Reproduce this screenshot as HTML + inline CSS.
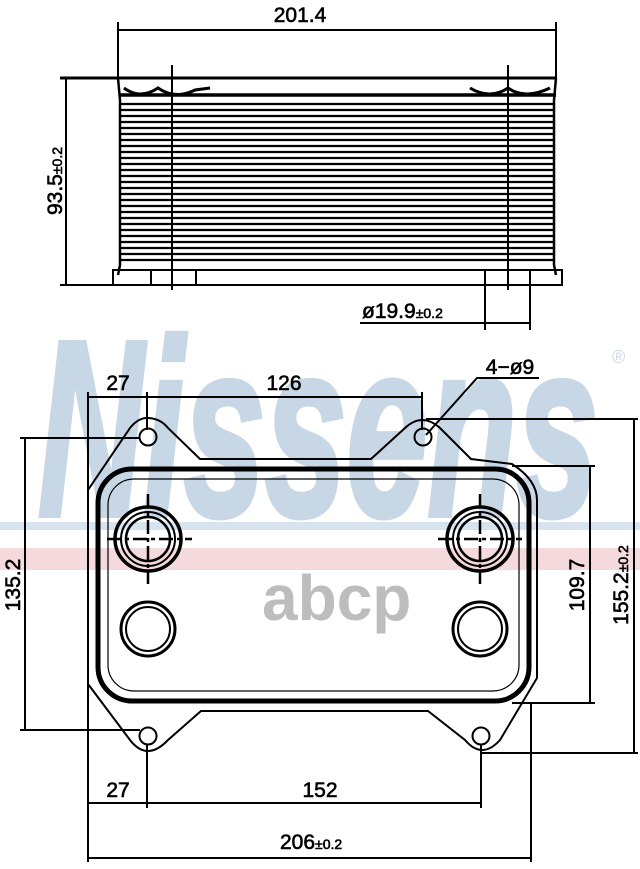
<!DOCTYPE html>
<html><head><meta charset="utf-8"><style>
html,body{margin:0;padding:0;background:#fff;width:640px;height:869px;overflow:hidden}
svg{display:block}
text{font-family:"Liberation Sans",sans-serif}
</style></head><body>
<svg width="640" height="869" viewBox="0 0 640 869" xmlns="http://www.w3.org/2000/svg">
<!-- watermark -->
<text x="38" y="515" font-size="250" font-weight="bold" font-style="italic" fill="#c8d7e6" stroke="#c8d7e6" stroke-width="6" textLength="560" lengthAdjust="spacingAndGlyphs">Nissens</text>
<text x="612" y="363" font-size="18" fill="#cbd9e7">®</text>
<rect x="0" y="522" width="640" height="8" fill="#d7e3ee"/>
<rect x="0" y="548" width="640" height="22" fill="#f5dadd"/>
<text x="262" y="620" font-size="64" fill="#bdbdbd" font-weight="bold">abcp</text>

<g stroke="#000" fill="none" stroke-width="2">
<!-- TOP VIEW -->
<line x1="118" y1="30" x2="556" y2="30"/>
<line x1="118" y1="22" x2="118" y2="80"/>
<line x1="556" y1="22" x2="556" y2="80"/>
<line x1="60" y1="78" x2="556" y2="78" stroke-width="3"/>
<line x1="60" y1="285" x2="112" y2="285"/>
<line x1="66" y1="78" x2="66" y2="285"/>
<path d="M118 78 L120 100 L120 265 L118 275 M556 78 L554 100 L554 265 L556 275" stroke-width="2.5"/>
<path d="M120 95 L556 95" stroke-width="3.5"/>
<path d="M124 88 Q140 100 158 88 Q175 100 195 90 L210 88 M470 88 Q490 100 508 88 Q525 100 550 88" stroke-width="3"/>
<g stroke-width="2.2">
<line x1="120" y1="104" x2="554" y2="104"/><line x1="120" y1="110" x2="554" y2="110"/>
<line x1="120" y1="116" x2="554" y2="116"/><line x1="120" y1="122" x2="554" y2="122"/>
<line x1="120" y1="128" x2="554" y2="128"/><line x1="120" y1="134" x2="554" y2="134"/>
<line x1="120" y1="140" x2="554" y2="140"/><line x1="120" y1="146" x2="554" y2="146"/>
<line x1="120" y1="152" x2="554" y2="152"/><line x1="120" y1="158" x2="554" y2="158"/>
<line x1="120" y1="164" x2="554" y2="164"/><line x1="120" y1="170" x2="554" y2="170"/>
<line x1="120" y1="176" x2="554" y2="176"/><line x1="120" y1="182" x2="554" y2="182"/>
<line x1="120" y1="188" x2="554" y2="188"/><line x1="120" y1="194" x2="554" y2="194"/>
<line x1="120" y1="200" x2="554" y2="200"/><line x1="120" y1="206" x2="554" y2="206"/>
<line x1="120" y1="212" x2="554" y2="212"/><line x1="120" y1="218" x2="554" y2="218"/>
<line x1="120" y1="224" x2="554" y2="224"/><line x1="120" y1="230" x2="554" y2="230"/>
<line x1="120" y1="236" x2="554" y2="236"/><line x1="120" y1="242" x2="554" y2="242"/>
<line x1="120" y1="248" x2="554" y2="248"/><line x1="120" y1="254" x2="554" y2="254"/>
<line x1="120" y1="260" x2="554" y2="260"/>
</g>
<rect x="113" y="270" width="449" height="15"/>
<line x1="151" y1="270" x2="151" y2="285"/><line x1="196" y1="270" x2="196" y2="285"/>
<line x1="485" y1="270" x2="485" y2="330"/><line x1="530" y1="270" x2="530" y2="330"/>
<line x1="172" y1="65" x2="172" y2="290"/><line x1="508" y1="65" x2="508" y2="290"/>
<line x1="360" y1="323" x2="530" y2="323"/>

<!-- BOTTOM VIEW -->
<path d="M147 418 Q160 418 168 428 L200 459 L371 459 L405 428 Q422 412 440 428 L471 459 L512 464 Q537 480 537 500 L537 678 L500 740 Q482 760 465 740 L428 711 L201 711 L168 740 Q147 762 130 740 L88 684 L88 490 L130 428 Q138 418 147 418 Z"/>
<rect x="98" y="469" width="431" height="232" rx="34" stroke-width="5"/>
<rect x="108" y="479" width="411" height="212" rx="26" stroke-width="1.2"/>
<circle cx="148" cy="437" r="8.5"/><circle cx="423" cy="437" r="8.5"/>
<circle cx="148" cy="736" r="8.5"/><circle cx="481" cy="736" r="8.5"/>
<ellipse cx="148" cy="539" rx="33" ry="32" stroke-width="3.5"/>
<ellipse cx="148" cy="539" rx="27" ry="27"/>
<ellipse cx="148" cy="539" rx="22" ry="22" stroke-width="2.5"/>
<ellipse cx="480" cy="539" rx="33" ry="32" stroke-width="3.5"/>
<ellipse cx="480" cy="539" rx="27" ry="27"/>
<ellipse cx="480" cy="539" rx="22" ry="22" stroke-width="2.5"/>
<path d="M107 539 H192 M148 494 V584 M438 539 H522 M480 494 V584" stroke-dasharray="14 4 4 4" stroke-width="2.5"/>
<ellipse cx="148" cy="629" rx="27" ry="27" stroke-width="3"/><ellipse cx="148" cy="629" rx="22" ry="22"/>
<ellipse cx="480" cy="629" rx="27" ry="27" stroke-width="3"/><ellipse cx="480" cy="629" rx="22" ry="22"/>

<!-- dims bottom view -->
<line x1="88" y1="397" x2="422" y2="397"/>
<line x1="88" y1="392" x2="88" y2="862"/>
<line x1="147" y1="392" x2="147" y2="430"/>
<line x1="422" y1="392" x2="422" y2="430"/>
<path d="M539 378 L477 378 L426 435"/>
<line x1="20" y1="438" x2="140" y2="438"/><line x1="20" y1="730" x2="140" y2="730"/>
<line x1="25" y1="438" x2="25" y2="730"/>
<line x1="512" y1="466" x2="595" y2="466"/><line x1="512" y1="703" x2="595" y2="703"/>
<line x1="590" y1="466" x2="590" y2="703"/>
<line x1="426" y1="419" x2="638" y2="419"/><line x1="482" y1="753" x2="638" y2="753"/>
<line x1="634" y1="419" x2="634" y2="753"/>
<line x1="147" y1="745" x2="147" y2="808"/><line x1="481" y1="745" x2="481" y2="808"/>
<line x1="88" y1="803" x2="480" y2="803"/>
<line x1="531" y1="703" x2="531" y2="862"/>
<line x1="88" y1="858" x2="531" y2="858"/>
</g>

<g fill="#000" font-size="21" stroke="#000" stroke-width="0.6">
<text x="300" y="22" text-anchor="middle">201.4</text>
<text transform="translate(62,181) rotate(-90)" text-anchor="middle">93.5<tspan font-size="14">±0.2</tspan></text>
<text x="362" y="318">ø19.9<tspan font-size="14">±0.2</tspan></text>
<text x="118" y="390" text-anchor="middle">27</text>
<text x="284" y="390" text-anchor="middle">126</text>
<text x="510" y="374" text-anchor="middle">4−ø9</text>
<text transform="translate(20,585) rotate(-90)" text-anchor="middle">135.2</text>
<text transform="translate(584,585) rotate(-90)" text-anchor="middle">109.7</text>
<text transform="translate(628,585) rotate(-90)" text-anchor="middle">155.2<tspan font-size="14">±0.2</tspan></text>
<text x="118" y="797" text-anchor="middle">27</text>
<text x="320" y="797" text-anchor="middle">152</text>
<text x="280" y="849">206<tspan font-size="14">±0.2</tspan></text>
</g>
</svg>
</body></html>
